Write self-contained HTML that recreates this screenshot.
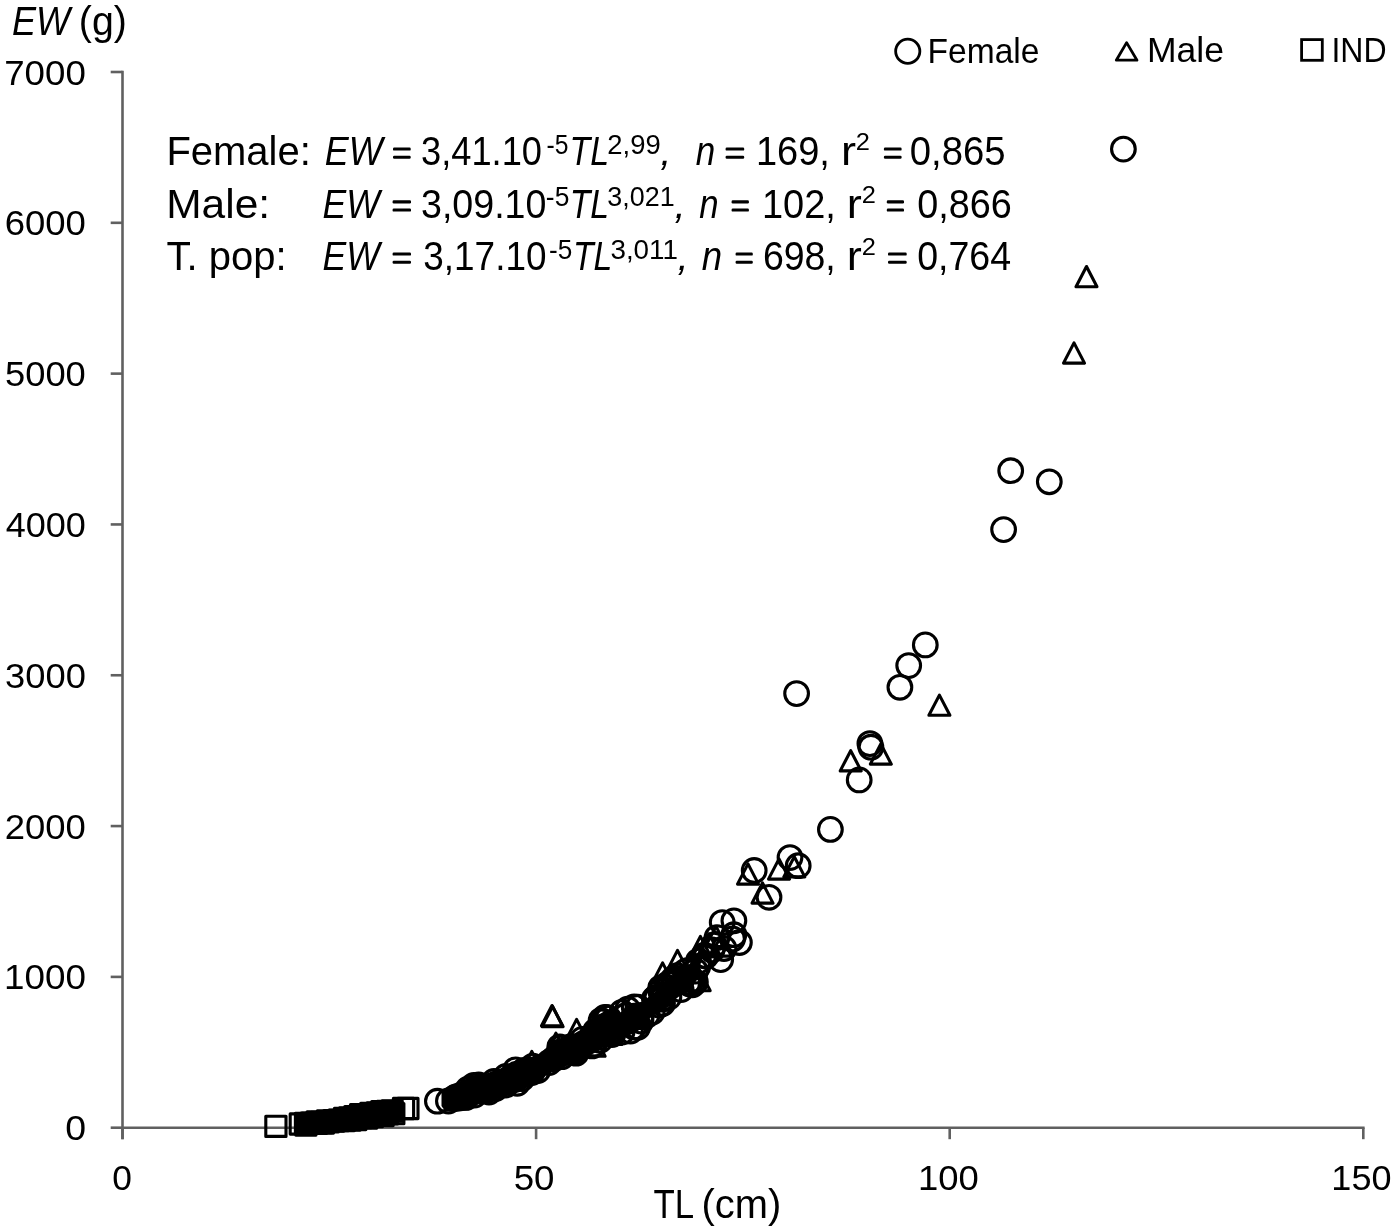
<!DOCTYPE html>
<html><head><meta charset="utf-8"><style>
html,body{margin:0;padding:0;background:#fff;width:1395px;height:1231px;overflow:hidden}
svg{display:block;will-change:transform}
text{font-family:"Liberation Sans",sans-serif}
</style></head><body>
<svg width="1395" height="1231" viewBox="0 0 1395 1231"><rect width="100%" height="100%" fill="#fff"/><g stroke="#606060" stroke-width="2.6" fill="none"><path d="M122.5 70.7 V1139.2 M121.2 1127.7 H1364.6"/><path d="M110.7 1127.70 H122.5"/><path d="M110.7 976.89 H122.5"/><path d="M110.7 826.07 H122.5"/><path d="M110.7 675.26 H122.5"/><path d="M110.7 524.44 H122.5"/><path d="M110.7 373.63 H122.5"/><path d="M110.7 222.81 H122.5"/><path d="M110.7 72.00 H122.5"/><path d="M122.50 1127.7 V1139.2"/><path d="M536.10 1127.7 V1139.2"/><path d="M949.70 1127.7 V1139.2"/><path d="M1363.30 1127.7 V1139.2"/></g><g fill="#000"><text transform="translate(11.88 34.60) scale(0.9017 1)" font-size="40" font-style="italic">EW</text><text transform="translate(78.86 34.60) scale(0.9836 1)" font-size="40">(g)</text><text transform="translate(653.43 1218.00) scale(0.8701 1)" font-size="40">TL</text><text transform="translate(701.43 1218.00) scale(0.9973 1)" font-size="40">(cm)</text><text transform="translate(4.23 84.60) scale(1.0574 1)" font-size="34.7">7000</text><text transform="translate(4.64 235.41) scale(1.0520 1)" font-size="34.7">6000</text><text transform="translate(5.05 386.23) scale(1.0466 1)" font-size="34.7">5000</text><text transform="translate(5.67 537.04) scale(1.0384 1)" font-size="34.7">4000</text><text transform="translate(5.12 687.86) scale(1.0456 1)" font-size="34.7">3000</text><text transform="translate(4.68 838.67) scale(1.0515 1)" font-size="34.7">2000</text><text transform="translate(4.00 989.49) scale(1.0617 1)" font-size="34.7">1000</text><text transform="translate(65.14 1140.30) scale(1.0792 1)" font-size="34.7">0</text><text transform="translate(112.22 1190.30) scale(1.0189 1)" font-size="34.7">0</text><text transform="translate(513.73 1190.30) scale(1.0573 1)" font-size="34.7">50</text><text transform="translate(918.03 1190.30) scale(1.0503 1)" font-size="34.7">100</text><text transform="translate(1331.36 1190.30) scale(1.0392 1)" font-size="34.7">150</text><text transform="translate(927.55 62.70) scale(0.9592 1)" font-size="35">Female</text><text transform="translate(1146.99 62.40) scale(1.0149 1)" font-size="35">Male</text><text transform="translate(1331.45 62.10) scale(0.9157 1)" font-size="35">IND</text><text transform="translate(166.42 165.40) scale(0.9894 1)" font-size="40.4">Female:</text><text transform="translate(324.79 165.40) scale(0.8898 1)" font-size="40.4" font-style="italic">EW</text><rect x="393.00" y="147.50" width="17.70" height="3.10" rx="1.2"/><rect x="393.00" y="155.70" width="17.70" height="3.10" rx="1.2"/><text transform="translate(421.02 165.40) scale(0.8977 1)" font-size="40.4">3,41.10</text><text transform="translate(546.42 153.80) scale(0.9132 1)" font-size="27">-5</text><text transform="translate(569.55 165.40) scale(0.8382 1)" font-size="40.4" font-style="italic">TL</text><text transform="translate(607.33 153.80) scale(1.0156 1)" font-size="27">2,99</text><text transform="translate(660.17 165.40) scale(1.0000 1)" font-size="40.4" font-style="italic">,</text><text transform="translate(695.80 165.40) scale(0.8668 1)" font-size="40.4" font-style="italic">n</text><rect x="725.60" y="147.50" width="18.60" height="3.10" rx="1.2"/><rect x="725.60" y="155.70" width="18.60" height="3.10" rx="1.2"/><text transform="translate(755.91 165.40) scale(0.9400 1)" font-size="40.4">169,</text><text transform="translate(840.92 165.40) scale(1.1188 1)" font-size="40.4">r</text><text transform="translate(855.83 150.00) scale(1.0599 1)" font-size="24">2</text><rect x="883.90" y="147.50" width="17.70" height="3.10" rx="1.2"/><rect x="883.90" y="155.70" width="17.70" height="3.10" rx="1.2"/><text transform="translate(909.81 165.40) scale(0.9478 1)" font-size="40.4">0,865</text><text transform="translate(166.22 218.20) scale(1.0509 1)" font-size="40.4">Male:</text><text transform="translate(322.60 218.20) scale(0.8808 1)" font-size="40.4" font-style="italic">EW</text><rect x="392.60" y="200.30" width="18.40" height="3.10" rx="1.2"/><rect x="392.60" y="208.50" width="18.40" height="3.10" rx="1.2"/><text transform="translate(420.97 218.20) scale(0.9312 1)" font-size="40.4">3,09.10</text><text transform="translate(545.84 206.20) scale(0.9778 1)" font-size="27">-5</text><text transform="translate(569.77 218.20) scale(0.8333 1)" font-size="40.4" font-style="italic">TL</text><text transform="translate(607.28 206.20) scale(0.9969 1)" font-size="27">3,021</text><text transform="translate(674.57 218.20) scale(1.0000 1)" font-size="40.4" font-style="italic">,</text><text transform="translate(699.21 218.20) scale(0.8618 1)" font-size="40.4" font-style="italic">n</text><rect x="731.60" y="200.30" width="17.30" height="3.10" rx="1.2"/><rect x="731.60" y="208.50" width="17.30" height="3.10" rx="1.2"/><text transform="translate(761.91 218.20) scale(0.9400 1)" font-size="40.4">102,</text><text transform="translate(846.72 218.20) scale(1.1188 1)" font-size="40.4">r</text><text transform="translate(861.63 202.80) scale(1.0599 1)" font-size="24">2</text><rect x="886.80" y="200.30" width="17.20" height="3.10" rx="1.2"/><rect x="886.80" y="208.50" width="17.20" height="3.10" rx="1.2"/><text transform="translate(917.13 218.20) scale(0.9353 1)" font-size="40.4">0,866</text><text transform="translate(166.62 270.40) scale(0.9896 1)" font-size="40.4">T. pop:</text><text transform="translate(322.60 270.40) scale(0.8808 1)" font-size="40.4" font-style="italic">EW</text><rect x="392.60" y="252.50" width="18.40" height="3.10" rx="1.2"/><rect x="392.60" y="260.70" width="18.40" height="3.10" rx="1.2"/><text transform="translate(423.30 270.40) scale(0.9137 1)" font-size="40.4">3,17.10</text><text transform="translate(549.05 258.90) scale(0.9686 1)" font-size="27">-5</text><text transform="translate(572.97 270.40) scale(0.8333 1)" font-size="40.4" font-style="italic">TL</text><text transform="translate(610.44 258.90) scale(1.0299 1)" font-size="27">3,011</text><text transform="translate(677.47 270.40) scale(1.0000 1)" font-size="40.4" font-style="italic">,</text><text transform="translate(701.78 270.40) scale(0.9069 1)" font-size="40.4" font-style="italic">n</text><rect x="735.60" y="252.50" width="17.20" height="3.10" rx="1.2"/><rect x="735.60" y="260.70" width="17.20" height="3.10" rx="1.2"/><text transform="translate(762.89 270.40) scale(0.9270 1)" font-size="40.4">698,</text><text transform="translate(846.72 270.40) scale(1.1188 1)" font-size="40.4">r</text><text transform="translate(861.63 255.00) scale(1.0599 1)" font-size="24">2</text><rect x="888.00" y="252.50" width="18.70" height="3.10" rx="1.2"/><rect x="888.00" y="260.70" width="18.70" height="3.10" rx="1.2"/><text transform="translate(917.14 270.40) scale(0.9295 1)" font-size="40.4">0,764</text></g><g fill="none" stroke="#000" stroke-width="2.8"><circle cx="907.75" cy="51.3" r="12.1"/><path d="M1126.6 42.6 L1137 60.2 H1116.3 Z" stroke-linejoin="round"/><rect x="1301.6" y="39.6" width="20.7" height="20.7"/></g><path d="M461.9 1082.0L467.9 1077.2L476.7 1074.3L483.3 1074.8L493.4 1070.8L500.0 1068.7L511.5 1061.8L517.9 1060.3L528.2 1057.4L538.8 1055.0L546.8 1049.6L551.8 1039.9L568.6 1036.7L584.8 1027.5L596.5 1015.0L606.5 1011.6L616.4 1016.9L625.7 1006.7L631.6 1003.0L643.3 1001.8L655.2 993.2L658.1 985.9L673.0 975.4L689.4 963.9L698.5 954.2L706.4 946.4L694.7 981.5L691.1 991.5L681.3 994.8L661.2 1010.1L649.0 1018.8L643.0 1027.0L635.9 1032.4L626.8 1036.1L606.9 1039.3L599.9 1050.3L588.1 1056.3L584.2 1062.8L572.7 1063.5L561.0 1068.2L549.0 1071.8L543.0 1078.8L531.8 1084.4L520.6 1091.7L503.7 1096.7L497.6 1098.6L491.6 1102.9L478.9 1104.3L470.6 1107.4L456.9 1108.0Z" fill="#000"/><path d="M441.5 1093 L444 1089 L450 1085 L458 1082 L466 1080 L470 1086 L470 1110 L456 1112 L445 1111 L441.5 1106 Z" fill="#000"/><path d="M295.5 1115.2L306.0 1115.2L316.6 1114.7L341.6 1111.8L350.6 1109.0L361.6 1107.0L375.6 1105.7L379.1 1103.2L393.3 1102.5L402.0 1102.5L402.0 1120.9L393.3 1120.9L386.4 1123.0L372.9 1124.2L359.2 1126.3L338.8 1128.3L318.4 1131.8L306.0 1132.3L295.5 1132.3Z" fill="#000"/><g fill="none" stroke="#000" stroke-width="3.1" stroke-linejoin="round"><rect x="295.4" y="1113.2" width="20.2" height="20.2"/><rect x="301.1" y="1113.0" width="20.2" height="20.2"/><rect x="307.1" y="1111.8" width="20.2" height="20.2"/><rect x="311.4" y="1112.4" width="20.2" height="20.2"/><rect x="317.3" y="1110.9" width="20.2" height="20.2"/><rect x="324.3" y="1110.6" width="20.2" height="20.2"/><rect x="329.4" y="1110.0" width="20.2" height="20.2"/><rect x="334.4" y="1108.4" width="20.2" height="20.2"/><rect x="339.6" y="1107.9" width="20.2" height="20.2"/><rect x="344.8" y="1106.6" width="20.2" height="20.2"/><rect x="350.5" y="1104.5" width="20.2" height="20.2"/><rect x="356.1" y="1104.7" width="20.2" height="20.2"/><rect x="360.7" y="1103.2" width="20.2" height="20.2"/><rect x="367.1" y="1102.9" width="20.2" height="20.2"/><rect x="371.7" y="1101.6" width="20.2" height="20.2"/><rect x="377.2" y="1101.4" width="20.2" height="20.2"/><rect x="382.1" y="1100.9" width="20.2" height="20.2"/><rect x="295.8" y="1114.9" width="20.2" height="20.2"/><rect x="302.2" y="1113.3" width="20.2" height="20.2"/><rect x="306.2" y="1113.3" width="20.2" height="20.2"/><rect x="313.3" y="1112.9" width="20.2" height="20.2"/><rect x="318.0" y="1111.7" width="20.2" height="20.2"/><rect x="323.2" y="1111.0" width="20.2" height="20.2"/><rect x="328.3" y="1110.4" width="20.2" height="20.2"/><rect x="334.2" y="1110.4" width="20.2" height="20.2"/><rect x="339.9" y="1109.9" width="20.2" height="20.2"/><rect x="345.7" y="1109.4" width="20.2" height="20.2"/><rect x="350.8" y="1107.5" width="20.2" height="20.2"/><rect x="356.6" y="1107.9" width="20.2" height="20.2"/><rect x="362.2" y="1106.5" width="20.2" height="20.2"/><rect x="367.3" y="1105.3" width="20.2" height="20.2"/><rect x="373.0" y="1105.4" width="20.2" height="20.2"/><rect x="377.3" y="1103.7" width="20.2" height="20.2"/><rect x="383.7" y="1103.6" width="20.2" height="20.2"/><circle cx="1123.4" cy="149.1" r="11.85"/><path d="M1086.5 266.5L1097.0 286.7H1076.0Z"/><path d="M1074.0 342.9L1084.5 363.1H1063.5Z"/><circle cx="1010.7" cy="470.7" r="11.85"/><circle cx="1049.3" cy="481.8" r="11.85"/><circle cx="1003.6" cy="529.6" r="11.85"/><circle cx="925.3" cy="644.9" r="11.85"/><circle cx="908.7" cy="665.6" r="11.85"/><circle cx="899.9" cy="687.3" r="11.85"/><circle cx="796.6" cy="693.6" r="11.85"/><path d="M939.4 695.1L949.9 715.3H928.9Z"/><circle cx="869.9" cy="743.6" r="11.85"/><circle cx="870.9" cy="747.2" r="11.85"/><path d="M880.8 743.9L891.3 764.1H870.3Z"/><path d="M850.7 750.7L861.2 770.9H840.2Z"/><circle cx="859.2" cy="779.9" r="11.85"/><circle cx="830.4" cy="829.4" r="11.85"/><circle cx="790.0" cy="857.6" r="11.85"/><circle cx="798.2" cy="865.7" r="11.85"/><path d="M779.0 858.9L789.5 879.1H768.5Z"/><path d="M794.3 856.7L804.8 876.9H783.8Z"/><path d="M748.0 863.9L758.5 884.1H737.5Z"/><circle cx="754.2" cy="870.5" r="11.85"/><path d="M762.5 882.9L773.0 903.1H752.0Z"/><circle cx="769.0" cy="897.3" r="11.85"/><circle cx="733.9" cy="920.8" r="11.85"/><circle cx="722.2" cy="922.6" r="11.85"/><circle cx="733.9" cy="934.7" r="11.85"/><circle cx="732.5" cy="938.9" r="11.85"/><circle cx="739.4" cy="942.5" r="11.85"/><circle cx="720.7" cy="959.6" r="11.85"/><circle cx="717.0" cy="937.6" r="11.85"/><path d="M716.0 926.4L726.5 946.6H705.5Z"/><path d="M700.4 936.4L710.9 956.6H689.9Z"/><circle cx="712.0" cy="950.0" r="11.85"/><circle cx="724.0" cy="948.5" r="11.85"/><circle cx="706.0" cy="956.0" r="11.85"/><path d="M721.0 935.9L731.5 956.1H710.5Z"/><path d="M709.0 933.9L719.5 954.1H698.5Z"/><circle cx="714.0" cy="945.0" r="11.85"/><path d="M552.0 1005.5L562.5 1025.7H541.5Z"/><path d="M552.6 1006.5L563.1 1026.7H542.1Z"/><path d="M576.6 1019.4L587.1 1039.6H566.1Z"/><path d="M555.9 1033.2L566.4 1053.4H545.4Z"/><path d="M531.8 1051.4L542.3 1071.6H521.3Z"/><circle cx="606.7" cy="1017.6" r="11.85"/><circle cx="596.4" cy="1031.8" r="11.85"/><circle cx="559.9" cy="1046.8" r="11.85"/><path d="M662.6 962.9L673.1 983.1H652.1Z"/><path d="M677.5 950.4L688.0 970.6H667.0Z"/><circle cx="437.4" cy="1101.2" r="11.85"/><circle cx="448.4" cy="1101.0" r="11.85"/><rect x="265.8" y="1116.2" width="20.2" height="20.2"/><rect x="290.2" y="1113.9" width="20.2" height="20.2"/><rect x="393.4" y="1098.4" width="20.2" height="20.2"/><rect x="397.8" y="1098.4" width="20.2" height="20.2"/><circle cx="468.0" cy="1089.2" r="11.85"/><circle cx="473.9" cy="1085.3" r="11.85"/><circle cx="478.7" cy="1084.8" r="11.85"/><circle cx="494.0" cy="1081.5" r="11.85"/><circle cx="506.0" cy="1076.5" r="11.85"/><circle cx="515.6" cy="1069.8" r="11.85"/><circle cx="524.0" cy="1070.5" r="11.85"/><circle cx="533.0" cy="1066.1" r="11.85"/><circle cx="549.1" cy="1062.5" r="11.85"/><circle cx="560.0" cy="1047.9" r="11.85"/><circle cx="560.5" cy="1048.1" r="11.85"/><circle cx="570.9" cy="1046.7" r="11.85"/><circle cx="582.4" cy="1039.4" r="11.85"/><circle cx="595.5" cy="1031.2" r="11.85"/><circle cx="601.7" cy="1021.7" r="11.85"/><circle cx="608.2" cy="1018.0" r="11.85"/><circle cx="604.9" cy="1017.4" r="11.85"/><circle cx="627.7" cy="1009.2" r="11.85"/><circle cx="634.2" cy="1006.9" r="11.85"/><circle cx="637.9" cy="1007.2" r="11.85"/><circle cx="654.4" cy="998.9" r="11.85"/><circle cx="660.6" cy="990.8" r="11.85"/><circle cx="667.9" cy="984.1" r="11.85"/><circle cx="677.6" cy="978.7" r="11.85"/><circle cx="687.2" cy="970.7" r="11.85"/><circle cx="698.5" cy="961.1" r="11.85"/><circle cx="704.0" cy="955.5" r="11.85"/><circle cx="455.4" cy="1097.4" r="11.85"/><circle cx="466.0" cy="1097.4" r="11.85"/><circle cx="474.5" cy="1095.1" r="11.85"/><circle cx="489.0" cy="1092.1" r="11.85"/><circle cx="495.6" cy="1088.6" r="11.85"/><circle cx="505.9" cy="1085.0" r="11.85"/><circle cx="517.2" cy="1083.3" r="11.85"/><circle cx="522.0" cy="1078.5" r="11.85"/><circle cx="531.8" cy="1072.5" r="11.85"/><circle cx="537.8" cy="1070.5" r="11.85"/><circle cx="554.0" cy="1058.8" r="11.85"/><circle cx="561.8" cy="1056.7" r="11.85"/><circle cx="575.5" cy="1052.4" r="11.85"/><circle cx="576.0" cy="1053.2" r="11.85"/><circle cx="592.1" cy="1045.9" r="11.85"/><circle cx="594.2" cy="1044.3" r="11.85"/><circle cx="612.0" cy="1034.6" r="11.85"/><circle cx="622.0" cy="1031.9" r="11.85"/><circle cx="630.5" cy="1031.0" r="11.85"/><circle cx="637.7" cy="1027.3" r="11.85"/><circle cx="641.0" cy="1021.0" r="11.85"/><circle cx="652.2" cy="1011.9" r="11.85"/><circle cx="662.5" cy="1003.5" r="11.85"/><circle cx="668.9" cy="997.1" r="11.85"/><circle cx="681.1" cy="989.6" r="11.85"/><circle cx="692.4" cy="984.8" r="11.85"/><circle cx="687.8" cy="982.7" r="11.85"/><path d="M639.8 1008.2L650.3 1028.4H629.3Z"/><circle cx="641.2" cy="1016.3" r="11.85"/><circle cx="610.3" cy="1027.2" r="11.85"/><circle cx="677.2" cy="975.7" r="11.85"/><circle cx="600.0" cy="1040.3" r="11.85"/><path d="M594.6 1036.1L605.1 1056.3H584.1Z"/><circle cx="661.9" cy="999.2" r="11.85"/><circle cx="591.7" cy="1037.2" r="11.85"/><circle cx="610.9" cy="1022.8" r="11.85"/><path d="M641.0 1004.8L651.5 1025.0H630.5Z"/><circle cx="647.1" cy="1014.9" r="11.85"/><circle cx="662.9" cy="994.7" r="11.85"/><path d="M699.7 970.5L710.2 990.7H689.2Z"/><circle cx="667.9" cy="987.6" r="11.85"/><circle cx="621.8" cy="1012.4" r="11.85"/><circle cx="634.0" cy="1027.0" r="11.85"/><circle cx="695.4" cy="982.1" r="11.85"/><circle cx="613.1" cy="1033.5" r="11.85"/><circle cx="697.8" cy="966.5" r="11.85"/><circle cx="659.2" cy="1005.1" r="11.85"/><path d="M599.6 1018.1L610.1 1038.3H589.1Z"/><circle cx="673.4" cy="979.0" r="11.85"/><circle cx="601.1" cy="1020.3" r="11.85"/><circle cx="609.5" cy="1028.4" r="11.85"/><circle cx="611.0" cy="1030.8" r="11.85"/><circle cx="660.8" cy="987.8" r="11.85"/><path d="M613.4 1013.9L623.9 1034.1H602.9Z"/><path d="M678.4 969.8L688.9 990.0H667.9Z"/><path d="M613.2 1015.7L623.7 1035.9H602.7Z"/><path d="M660.6 977.5L671.1 997.7H650.1Z"/><circle cx="613.5" cy="1023.8" r="11.85"/><circle cx="626.2" cy="1015.5" r="11.85"/><circle cx="599.9" cy="1034.5" r="11.85"/><circle cx="656.1" cy="997.4" r="11.85"/><circle cx="695.5" cy="971.1" r="11.85"/><circle cx="685.3" cy="971.6" r="11.85"/><circle cx="689.9" cy="984.0" r="11.85"/><path d="M610.9 1020.8L621.4 1041.0H600.4Z"/><path d="M611.6 1024.2L622.1 1044.4H601.1Z"/><circle cx="656.4" cy="998.4" r="11.85"/></g></svg>
</body></html>
